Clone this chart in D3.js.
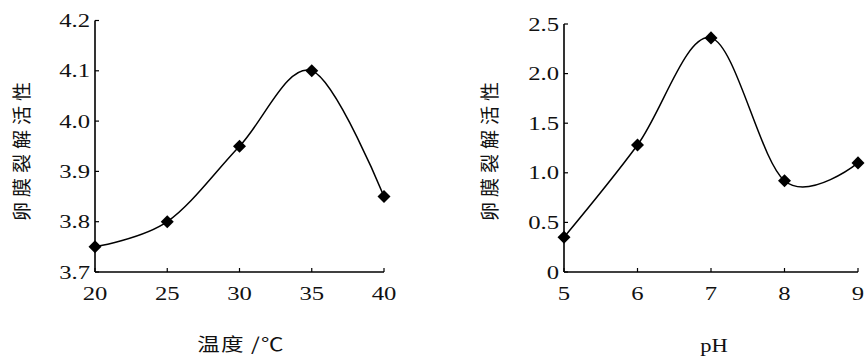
<!DOCTYPE html>
<html><head><meta charset="utf-8">
<script src="https://cdn.jsdelivr.net/npm/d3@7"></script>
<style>body{margin:0;background:#fff}svg{display:block}
.serif{font-family:"Liberation Serif","Times New Roman","DejaVu Serif",serif}
.cjk{font-family:"Noto Sans CJK SC","Noto Sans CJK JP",sans-serif}
</style>
</head><body>
<svg id="c" width="865" height="357"></svg>
<script>
// Left chart: temperature
const tempX = [20, 25, 30, 35, 40];
const tempY = [3.75, 3.80, 3.95, 4.10, 3.85];
const tempXTicks = [20, 25, 30, 35, 40];
const tempYTicks = [3.7, 3.8, 3.9, 4.0, 4.1, 4.2];
// Right chart: pH
const phX = [5, 6, 7, 8, 9];
const phY = [0.35, 1.28, 2.36, 0.92, 1.10];
const phXTicks = [5, 6, 7, 8, 9];
const phYTicks = [0, 0.5, 1.0, 1.5, 2.0, 2.5];
const yTitle = "卵膜裂解活性";
const tempTitle = "温度 /℃";
const phTitle = "pH";

const svg = d3.select("#c");

function panel(cfg){
  const x = d3.scaleLinear().domain(cfg.xd).range(cfg.xr);
  const y = d3.scaleLinear().domain(cfg.yd).range(cfg.yr);
  const g = svg.append("g");
  g.append("line").attr("x1", x(cfg.xd[0])).attr("x2", x(cfg.xd[1]))
    .attr("y1", y(cfg.yd[0])).attr("y2", y(cfg.yd[0])).attr("stroke","#000").attr("stroke-width",1.6);
  g.append("line").attr("x1", x(cfg.xd[0])).attr("x2", x(cfg.xd[0]))
    .attr("y1", y(cfg.yd[0])).attr("y2", y(cfg.yd[1])).attr("stroke","#000").attr("stroke-width",1.6);
  g.selectAll(".yt").data(cfg.yt).enter().append("line")
    .attr("x1", x(cfg.xd[0])).attr("x2", x(cfg.xd[0]) + 4)
    .attr("y1", d => y(d)).attr("y2", d => y(d)).attr("stroke","#000").attr("stroke-width",1.2);
  g.selectAll(".xt").data(cfg.xt).enter().append("line")
    .attr("x1", d => x(d)).attr("x2", d => x(d))
    .attr("y1", y(cfg.yd[0])).attr("y2", y(cfg.yd[0]) - 4).attr("stroke","#000").attr("stroke-width",1.2);
  g.selectAll(".yl").data(cfg.yt).enter().append("g")
    .attr("transform", d => `translate(${x(cfg.xd[0]) - 5},${y(d)}) scale(1.3,1)`)
    .append("text").attr("class","serif").attr("text-anchor","end").attr("dy","0.35em")
    .attr("font-size", 19).attr("fill","#111")
    .text(d => cfg.yfmt(d));
  g.selectAll(".xl").data(cfg.xt).enter().append("g")
    .attr("transform", d => `translate(${x(d)},${y(cfg.yd[0]) + 21}) scale(1.3,1)`)
    .append("text").attr("class","serif").attr("text-anchor","middle").attr("dy","0.35em")
    .attr("font-size", 19).attr("fill","#111")
    .text(d => d);
  const pts = cfg.xs.map((v,i) => [v, cfg.ys[i]]);
  const line = d3.line().x(d => x(d[0])).y(d => y(d[1])).curve(d3.curveCardinal.tension(0));
  g.append("path").attr("d", line(pts)).attr("fill","none").attr("stroke","#000").attr("stroke-width",1.5);
  const sym = d3.symbol().type(d3.symbolSquare).size(85);
  g.selectAll(".m").data(pts).enter().append("path")
    .attr("d", sym).attr("fill","#000")
    .attr("transform", d => `translate(${x(d[0])},${y(d[1])}) rotate(45)`);
  g.append("text").attr("class","cjk").attr("transform", `translate(${cfg.ytx},${cfg.yty}) rotate(-90)`)
    .attr("text-anchor","middle").attr("dy","0.35em")
    .attr("font-size", 19).attr("letter-spacing", 5).attr("fill","#111")
    .text(yTitle);
  g.append("g").attr("transform", `translate(${cfg.xtx},${cfg.xty}) scale(1.25,1)`)
    .append("text").attr("class", cfg.xtclass).attr("text-anchor","middle")
    .attr("font-size", 18).attr("letter-spacing", cfg.xtls).attr("fill","#111")
    .text(cfg.xtitle);
}

panel({xd:[20,40], xr:[95,384], yd:[3.7,4.2], yr:[272,20.5], xt:tempXTicks, yt:tempYTicks,
  xs:tempX, ys:tempY, yfmt:d3.format(".1f"), ytx:22, yty:149, xtx:241, xty:351,
  xtitle:tempTitle, xtclass:"cjk", xtls:1});
panel({xd:[5,9], xr:[564,858], yd:[0,2.5], yr:[272,24], xt:phXTicks, yt:phYTicks,
  xs:phX, ys:phY, yfmt:d => d === 0 ? "0" : d3.format(".1f")(d), ytx:490, yty:149, xtx:714, xty:352,
  xtitle:phTitle, xtclass:"serif", xtls:0});
</script>
</body></html>
